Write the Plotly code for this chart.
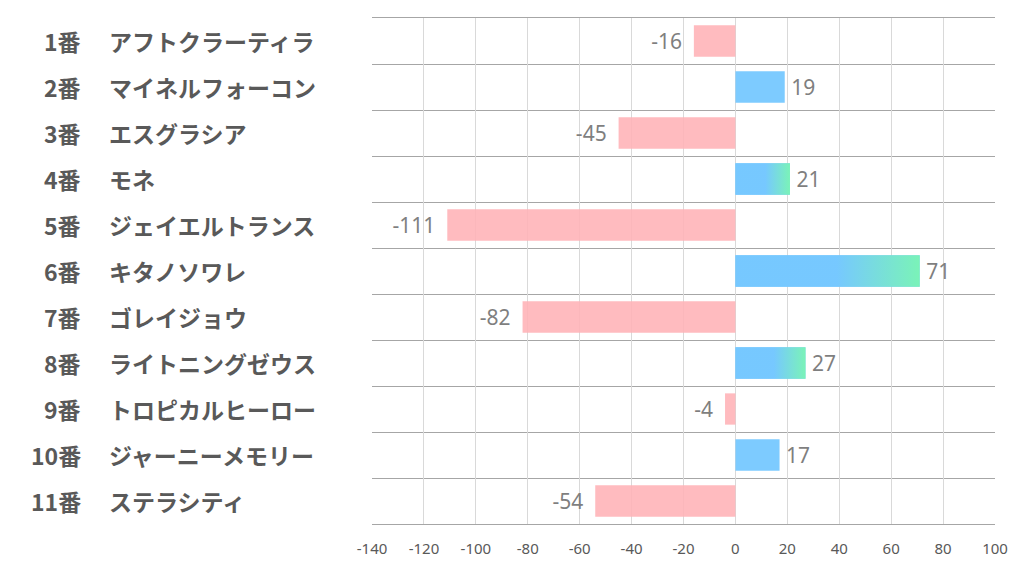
import plotly.graph_objects as go

numbers = ["1番", "2番", "3番", "4番", "5番", "6番", "7番", "8番", "9番", "10番", "11番"]
horses = ["アフトクラーティラ", "マイネルフォーコン", "エスグラシア", "モネ", "ジェイエルトランス",
          "キタノソワレ", "ゴレイジョウ", "ライトニングゼウス", "トロピカルヒーロー",
          "ジャーニーメモリー", "ステラシティ"]
values = [-16, 19, -45, 21, -111, 71, -82, 27, -4, 17, -54]
x_ticks = [-140, -120, -100, -80, -60, -40, -20, 0, 20, 40, 60, 80, 100]

pink = "rgba(255,178,182,0.88)"
blue = "rgba(118,200,255,0.95)"
green = "rgba(122,245,180,0.95)"
bar_w = 0.68

pos = list(range(len(values)))
colors = [blue if v > 0 else pink for v in values]
# extra spacing so the labels sit a bit off the bar ends, like Excel
labels = [f"\u2009{v}" if v > 0 else f"{v} \u2009" for v in values]

fig = go.Figure()
fig.add_trace(go.Bar(
    x=values, y=pos, orientation="h", width=bar_w,
    marker=dict(color=colors, line=dict(width=0)),
    text=labels, textposition="outside",
    textfont=dict(family="Noto Sans", size=21, color="#7F7F7F"),
    cliponaxis=False, hoverinfo="skip",
))

# gradient overlay for the longer positive bars
for i, v in enumerate(values):
    if v > 20:
        h = bar_w / 2
        fig.add_trace(go.Scatter(
            x=[0, v, v, 0, 0], y=[i - h, i - h, i + h, i + h, i - h],
            mode="lines", line=dict(width=0), fill="toself",
            fillgradient=dict(type="horizontal",
                              colorscale=[[0, blue], [0.55, blue], [1, green]]),
            hoverinfo="skip", showlegend=False,
        ))

for i, (n, h) in enumerate(zip(numbers, horses)):
    fig.add_annotation(x=0, xref="paper", y=i, yref="y", text=n, showarrow=False,
                       xanchor="right", xshift=-289,
                       font=dict(family="Noto Sans CJK JP", size=23, color="#595959", weight="bold"))
    fig.add_annotation(x=0, xref="paper", y=i, yref="y", text=h, showarrow=False,
                       xanchor="left", xshift=-265,
                       font=dict(family="Noto Sans CJK JP", size=23, color="#595959", weight="bold"))

# page body has an 8px margin, so the figure is sized to land on the same pixels
fig.update_layout(
    width=1014, height=566,
    margin=dict(l=364, r=27, t=10, b=50),
    plot_bgcolor="white", paper_bgcolor="white",
    showlegend=False,
    xaxis=dict(range=[-140, 100], tickvals=x_ticks, ticktext=[str(t) for t in x_ticks],
               showgrid=True, gridcolor="#D9D9D9",
               zeroline=False, showline=True, mirror=True, linecolor="#A6A6A6", ticks="",
               ticklabelstandoff=11,
               tickfont=dict(family="Noto Sans", size=15, color="#595959")),
    yaxis=dict(range=[10.5, -0.5], tickvals=pos, ticktext=[""] * len(pos),
               showgrid=False, zeroline=False, showline=False,
               minor=dict(tickmode="array", tickvals=[i + 0.5 for i in range(-1, len(pos))],
                          showgrid=True, gridcolor="#A6A6A6", gridwidth=1, ticks="")),
)

fig.write_html("out.html")
